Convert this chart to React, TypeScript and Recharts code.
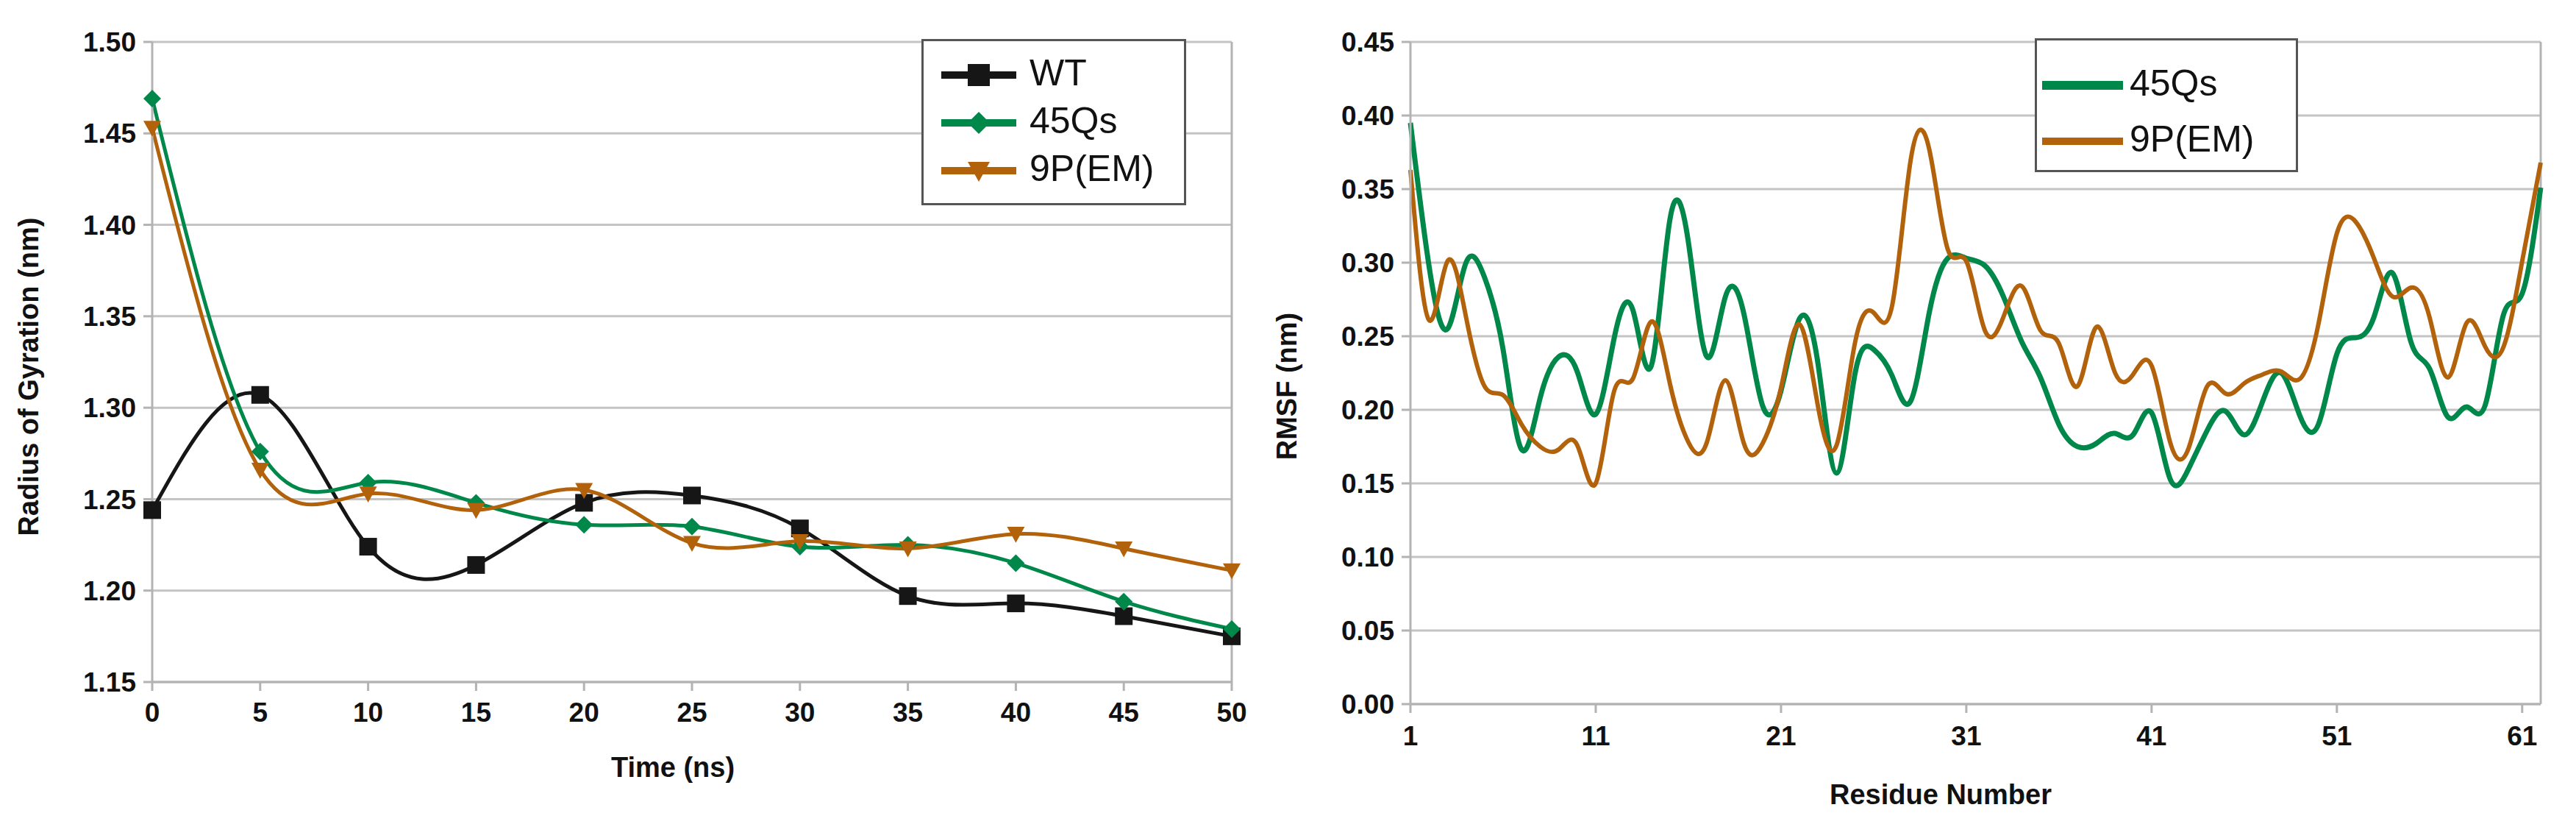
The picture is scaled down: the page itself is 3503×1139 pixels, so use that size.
import React from 'react';
import { LineChart, Line, XAxis, YAxis, CartesianGrid, Legend, ReferenceLine } from 'recharts';

// Radius of gyration over the simulation time
const times = [0, 5, 10, 15, 20, 25, 30, 35, 40, 45, 50];
const wtGyration = [1.244, 1.307, 1.224, 1.214, 1.248, 1.252, 1.234, 1.197, 1.193, 1.186, 1.175];
const qsGyration = [1.469, 1.276, 1.259, 1.248, 1.236, 1.235, 1.224, 1.225, 1.215, 1.194, 1.179];
const emGyration = [1.453, 1.266, 1.253, 1.244, 1.255, 1.226, 1.227, 1.223, 1.231, 1.223, 1.211];
const gyrationTicks = [1.15, 1.2, 1.25, 1.3, 1.35, 1.4, 1.45, 1.5];

// RMSF per residue
const residues = [
  1, 2, 3, 4, 5, 6, 7, 8, 9, 10, 11, 12, 13, 14, 15, 16, 17, 18, 19, 20, 21,
  22, 23, 24, 25, 26, 27, 28, 29, 30, 31, 32, 33, 34, 35, 36, 37, 38, 39, 40, 41,
  42, 43, 44, 45, 46, 47, 48, 49, 50, 51, 52, 53, 54, 55, 56, 57, 58, 59, 60, 61, 62,
];
const qsRmsf = [
  0.395, 0.298, 0.255, 0.300, 0.290, 0.241, 0.173, 0.208, 0.236, 0.226, 0.197,
  0.249, 0.268, 0.230, 0.329, 0.314, 0.236, 0.277, 0.265, 0.203, 0.213,
  0.262, 0.231, 0.157, 0.225, 0.241, 0.223, 0.206, 0.266, 0.303, 0.303,
  0.298, 0.277, 0.246, 0.222, 0.190, 0.175, 0.177, 0.184, 0.183, 0.198,
  0.153, 0.160, 0.186, 0.199, 0.183, 0.206, 0.225, 0.196, 0.190, 0.238,
  0.249, 0.263, 0.293, 0.246, 0.228, 0.195, 0.202, 0.203, 0.265, 0.279, 0.351,
];
const emRmsf = [
  0.363, 0.261, 0.301, 0.263, 0.216, 0.210, 0.190, 0.175, 0.173, 0.176, 0.150,
  0.213, 0.221, 0.260, 0.218, 0.178, 0.178, 0.220, 0.177, 0.177, 0.215,
  0.258, 0.202, 0.176, 0.246, 0.266, 0.271, 0.370, 0.377, 0.309, 0.301,
  0.254, 0.263, 0.284, 0.254, 0.245, 0.216, 0.256, 0.226, 0.224, 0.230,
  0.178, 0.174, 0.216, 0.211, 0.218, 0.224, 0.226, 0.221, 0.258, 0.320,
  0.328, 0.303, 0.277, 0.283, 0.263, 0.222, 0.259, 0.243, 0.243, 0.301, 0.368,
];
const residueTicks = [1, 11, 21, 31, 41, 51, 61];
const rmsfTicks = [0, 0.05, 0.1, 0.15, 0.2, 0.25, 0.3, 0.35, 0.4, 0.45];

const gyrationData = times.map((t, i) => ({
  time: t,
  wt: wtGyration[i],
  qs: qsGyration[i],
  em: emGyration[i],
}));

const rmsfData = residues.map((r, i) => ({
  residue: r,
  qs: qsRmsf[i],
  em: emRmsf[i],
}));

const FONT = '"Liberation Sans", Arial, sans-serif';
const BLACK = '#161616';
const GREEN = '#00884a';
const BROWN = '#b3620c';
const GRID = '#c4c4c4';
const AXIS = '#b3b3b3';

const tickStyle = { fill: '#111', fontSize: 37, fontWeight: 700, fontFamily: FONT };
const titleStyle = { fill: '#111', fontSize: 38, fontWeight: 700, fontFamily: FONT };

const markerFor: Record<string, string> = { wt: 'square', qs: 'diamond', em: 'triangle' };
const seriesOrder = ['wt', 'qs', 'em'];

function Marker({ shape, cx, cy, color, size }: { shape: string; cx: number; cy: number; color: string; size: number }) {
  const h = size / 2;
  if (shape === 'square') {
    return <rect x={cx - h} y={cy - h} width={size} height={size} fill={color} />;
  }
  if (shape === 'diamond') {
    return <polygon points={`${cx},${cy - h} ${cx + h},${cy} ${cx},${cy + h} ${cx - h},${cy}`} fill={color} />;
  }
  if (shape === 'triangle') {
    return <polygon points={`${cx - h},${cy - h * 0.8} ${cx + h},${cy - h * 0.8} ${cx},${cy + h}`} fill={color} />;
  }
  return null;
}

const makeDot = (shape: string, color: string) => (props: any) => {
  const { cx, cy, index } = props;
  if (cx == null || cy == null) return <g key={`dot-${index}`} />;
  return (
    <g key={`dot-${index}`}>
      <Marker shape={shape} cx={cx} cy={cy} color={color} size={24} />
    </g>
  );
};

interface LegendLayout {
  width: number;
  height: number;
  rows: number[];
  lineX: number;
  lineW: number;
  textX: number;
  withMarkers: boolean;
}

const LegendBox: React.FC<{ payload?: any[]; layout: LegendLayout }> = ({ payload, layout }) => {
  // keep the series order of the chart, not the alphabetical one
  const items = [...(payload || [])].sort(
    (a, b) => seriesOrder.indexOf(String(a.dataKey)) - seriesOrder.indexOf(String(b.dataKey)),
  );
  return (
    <svg width={layout.width} height={layout.height} style={{ display: 'block' }}>
      <rect
        x={1.5}
        y={1.5}
        width={layout.width - 3}
        height={layout.height - 3}
        fill="#fff"
        stroke="#555"
        strokeWidth={3}
      />
      {items.map((entry, i) => {
        const y = layout.rows[i];
        const key = String(entry.dataKey);
        return (
          <g key={key}>
            <line
              x1={layout.lineX}
              x2={layout.lineX + layout.lineW}
              y1={y}
              y2={y}
              stroke={entry.color}
              strokeWidth={key === 'qs' && !layout.withMarkers ? 12 : 10}
            />
            {layout.withMarkers && (
              <Marker shape={markerFor[key]} cx={layout.lineX + layout.lineW / 2} cy={y} color={entry.color} size={30} />
            )}
            <text x={layout.textX} y={y + 14} fontSize={50} fontFamily={FONT} fill="#111">
              {entry.value}
            </text>
          </g>
        );
      })}
    </svg>
  );
};

const leftLegend: LegendLayout = {
  width: 360,
  height: 226,
  rows: [49, 114, 179],
  lineX: 27,
  lineW: 102,
  textX: 147,
  withMarkers: true,
};

const rightLegend: LegendLayout = {
  width: 358,
  height: 182,
  rows: [64, 140],
  lineX: 10,
  lineW: 110,
  textX: 129,
  withMarkers: false,
};

const GyrationChart: React.FC = () => (
  <LineChart width={1700} height={1139} data={gyrationData} margin={{ top: 57, right: 25, left: 0, bottom: 0 }}>
    <CartesianGrid vertical={false} stroke={GRID} strokeWidth={3} />
    <XAxis
      dataKey="time"
      type="number"
      domain={[0, 50]}
      ticks={times}
      interval={0}
      height={212}
      tickSize={12}
      tickMargin={16}
      tick={tickStyle}
      axisLine={{ stroke: AXIS, strokeWidth: 3 }}
      tickLine={{ stroke: AXIS, strokeWidth: 3 }}
      label={{
        content: () => (
          <text x={915} y={1056} textAnchor="middle" {...titleStyle}>
            Time (ns)
          </text>
        ),
      }}
    />
    <YAxis
      type="number"
      domain={[1.15, 1.5]}
      ticks={gyrationTicks}
      interval={0}
      width={207}
      tickSize={12}
      tickMargin={10}
      tick={tickStyle}
      tickFormatter={(v: number) => v.toFixed(2)}
      axisLine={{ stroke: AXIS, strokeWidth: 3 }}
      tickLine={{ stroke: AXIS, strokeWidth: 3 }}
      label={{
        content: () => (
          <text x={52} y={512} textAnchor="middle" transform="rotate(-90 52 512)" {...titleStyle}>
            Radius of Gyration (nm)
          </text>
        ),
      }}
    />
    <ReferenceLine x={50} stroke={AXIS} strokeWidth={3} />
    <Legend
      layout="vertical"
      align="center"
      verticalAlign="middle"
      wrapperStyle={{ position: 'absolute', left: 1253, top: 53, width: 360, height: 226 }}
      content={(props: any) => <LegendBox payload={props.payload} layout={leftLegend} />}
    />
    <Line
      type="natural"
      dataKey="wt"
      name="WT"
      stroke={BLACK}
      strokeWidth={5}
      dot={makeDot('square', BLACK)}
      activeDot={false}
      isAnimationActive={false}
    />
    <Line
      type="natural"
      dataKey="qs"
      name="45Qs"
      stroke={GREEN}
      strokeWidth={5}
      dot={makeDot('diamond', GREEN)}
      activeDot={false}
      isAnimationActive={false}
    />
    <Line
      type="natural"
      dataKey="em"
      name="9P(EM)"
      stroke={BROWN}
      strokeWidth={5}
      dot={makeDot('triangle', BROWN)}
      activeDot={false}
      isAnimationActive={false}
    />
  </LineChart>
);

const RmsfChart: React.FC = () => (
  <LineChart width={1803} height={1139} data={rmsfData} margin={{ top: 57, right: 48, left: 0, bottom: 0 }}>
    <CartesianGrid vertical={false} stroke={GRID} strokeWidth={3} />
    <XAxis
      dataKey="residue"
      type="number"
      domain={[1, 62]}
      ticks={residueTicks}
      interval={0}
      height={182}
      tickSize={12}
      tickMargin={18}
      tick={tickStyle}
      axisLine={{ stroke: AXIS, strokeWidth: 3 }}
      tickLine={{ stroke: AXIS, strokeWidth: 3 }}
      label={{
        content: () => (
          <text x={939} y={1093} textAnchor="middle" {...titleStyle}>
            Residue Number
          </text>
        ),
      }}
    />
    <YAxis
      type="number"
      domain={[0, 0.45]}
      ticks={rmsfTicks}
      interval={0}
      width={218}
      tickSize={12}
      tickMargin={10}
      tick={tickStyle}
      tickFormatter={(v: number) => v.toFixed(2)}
      axisLine={{ stroke: AXIS, strokeWidth: 3 }}
      tickLine={{ stroke: AXIS, strokeWidth: 3 }}
      label={{
        content: () => (
          <text x={63} y={525} textAnchor="middle" transform="rotate(-90 63 525)" {...titleStyle}>
            RMSF (nm)
          </text>
        ),
      }}
    />
    <ReferenceLine x={62} stroke={AXIS} strokeWidth={3} />
    <Legend
      layout="vertical"
      align="center"
      verticalAlign="middle"
      wrapperStyle={{ position: 'absolute', left: 1067, top: 52, width: 358, height: 182 }}
      content={(props: any) => <LegendBox payload={props.payload} layout={rightLegend} />}
    />
    <Line
      type="natural"
      dataKey="qs"
      name="45Qs"
      stroke={GREEN}
      strokeWidth={7}
      dot={false}
      activeDot={false}
      isAnimationActive={false}
    />
    <Line
      type="natural"
      dataKey="em"
      name="9P(EM)"
      stroke={BROWN}
      strokeWidth={6}
      dot={false}
      activeDot={false}
      isAnimationActive={false}
    />
  </LineChart>
);

export default function App() {
  return (
    <div style={{ position: 'absolute', left: 0, top: 0, width: 3503, height: 1139, background: '#fff', fontFamily: FONT }}>
      <div style={{ position: 'absolute', left: 0, top: 0 }}>
        <GyrationChart />
      </div>
      <div style={{ position: 'absolute', left: 1700, top: 0 }}>
        <RmsfChart />
      </div>
    </div>
  );
}
